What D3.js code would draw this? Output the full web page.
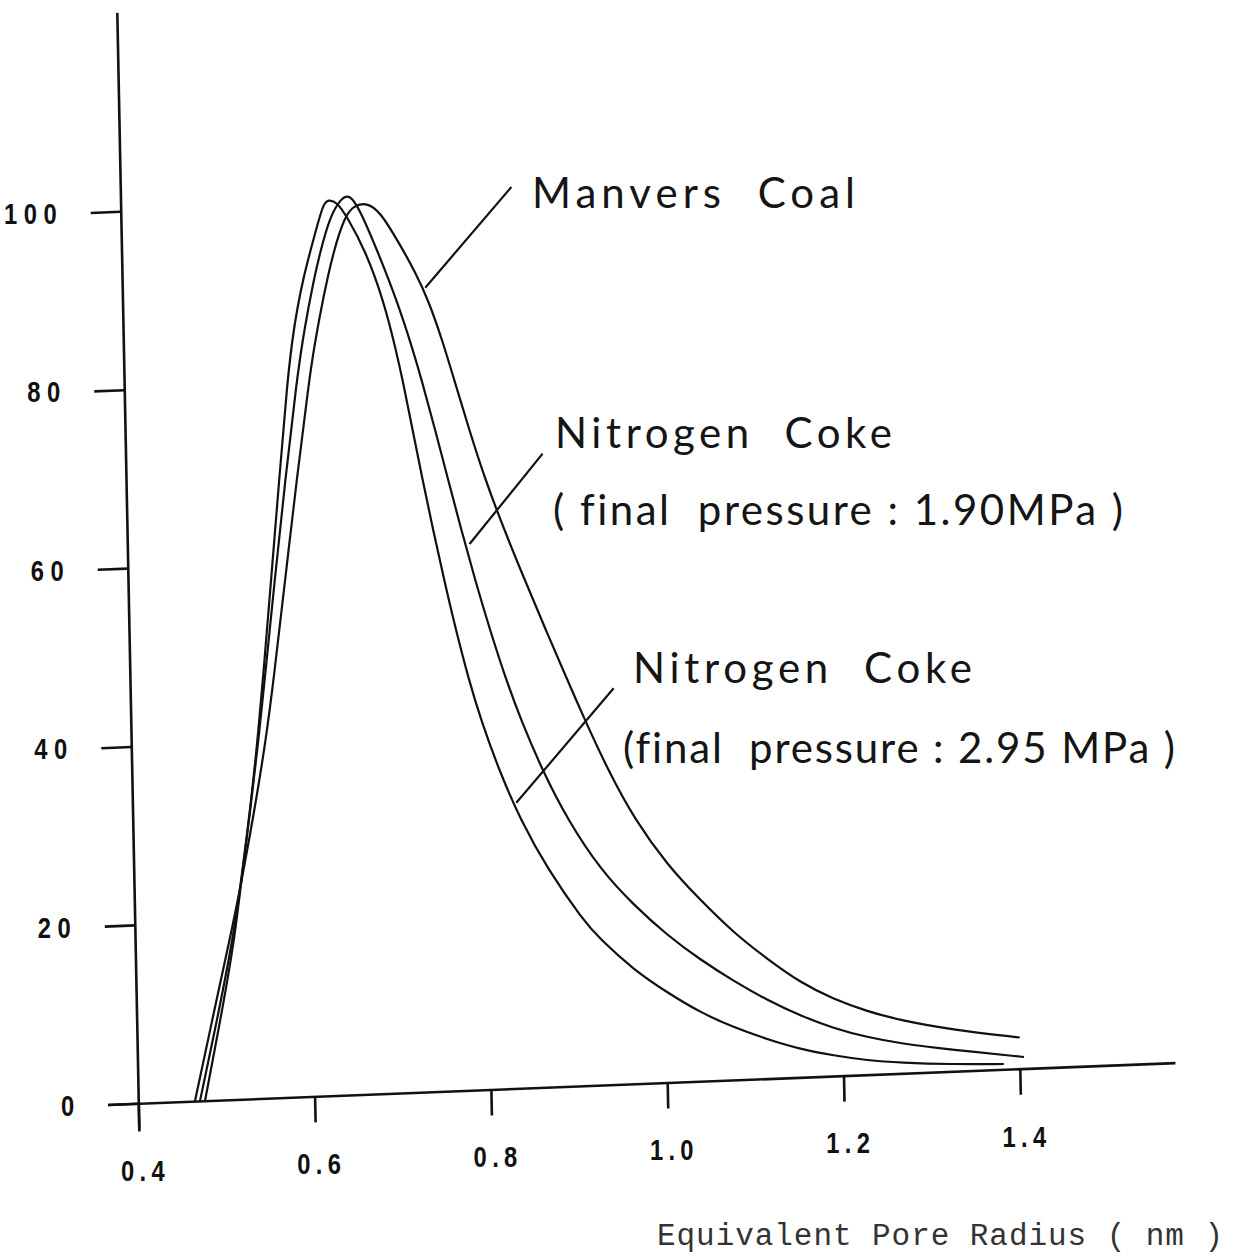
<!DOCTYPE html>
<html>
<head>
<meta charset="utf-8">
<script src="https://cdn.jsdelivr.net/npm/d3@7"></script>
<style>
  html, body { margin: 0; padding: 0; background: #fff; }
  svg { display: block; }
  .note { font-family: Lato, "Open Sans", sans-serif; font-weight: 400; font-size: 42px; fill: #151515; white-space: pre; font-variant-ligatures: none; font-feature-settings: "liga" 0; }
  .ticklbl { font-family: "Liberation Sans", Arial, sans-serif; font-weight: bold; font-size: 29px; fill: #111; }
  .xtitle { font-family: "Liberation Mono", "Courier New", monospace; font-size: 31px; fill: #333; white-space: pre; }
</style>
</head>
<body>
<svg id="chart" width="1242" height="1257"></svg>
<script>
// ---------------- data ----------------
const xTicks = [0.4, 0.6, 0.8, 1.0, 1.2, 1.4];
const xTickLabels = ["0.4", "0.6", "0.8", "1.0", "1.2", "1.4"];
const yTicks = [0, 20, 40, 60, 80, 100];
const yTickLabels = ["0", "20", "40", "60", "80", "100"];
const xTitle = "Equivalent Pore Radius ( nm )";

// Manvers Coal
const radiusCoal = [0.4643, 0.4892, 0.5071, 0.5201, 0.539, 0.5527, 0.5628, 0.5781, 0.5934, 0.6099, 0.6156, 0.6269, 0.6405, 0.6538, 0.6636, 0.6792, 0.694, 0.716, 0.7325, 0.7466, 0.7616, 0.7743, 0.7902, 0.8073, 0.8277, 0.8498, 0.8725, 0.8958, 0.9148, 0.9398, 0.9693, 1.0051, 1.0407, 1.0785, 1.1162, 1.1534, 1.1905, 1.2284, 1.266, 1.3225, 1.4006];
const valueCoal  = [0, 10.5, 17.88, 23.45, 32.7, 40.14, 46.82, 57.98, 69.1, 80.3, 83.62, 89.18, 94.7, 98.4, 99.6, 99.9, 98.85, 95.0, 91.9, 88.71, 84.17, 79.64, 73.97, 68.3, 62.61, 56.92, 51.23, 45.54, 40.98, 35.27, 29.56, 24.37, 20.4, 16.5, 13.4, 10.6, 8.6, 7.1, 5.95, 4.7, 3.5];

// Nitrogen Coke, final pressure 1.90 MPa
const radiusCoke190 = [0.4757, 0.4981, 0.5124, 0.5203, 0.534, 0.5443, 0.5527, 0.5663, 0.5805, 0.5957, 0.6053, 0.6172, 0.6258, 0.6371, 0.650, 0.6597, 0.6703, 0.6888, 0.711, 0.7281, 0.7374, 0.7516, 0.7652, 0.779, 0.7935, 0.8092, 0.8265, 0.8423, 0.8653, 0.8931, 0.9294, 0.9654, 1.0033, 1.0405, 1.0774, 1.1151, 1.1526, 1.1898, 1.2278, 1.2655, 1.322, 1.405];
const valueCoke190  = [0, 10.45, 17.87, 23.45, 32.7, 40.16, 46.86, 58.02, 69.18, 80.33, 85.9, 91.46, 94.79, 98.48, 100.5, 100.9, 99.3, 94.77, 88.85, 83.18, 79.78, 74.12, 68.46, 62.8, 57.14, 51.48, 45.8, 41.26, 35.56, 29.85, 24.1, 20.1, 16.5, 13.6, 11.1, 8.8, 6.9, 5.35, 4.2, 3.35, 2.45, 1.3];

// Nitrogen Coke, final pressure 2.95 MPa
const radiusCoke295 = [0.470, 0.4946, 0.5105, 0.5201, 0.5338, 0.5433, 0.5507, 0.5622, 0.5736, 0.5852, 0.5931, 0.6044, 0.622, 0.630, 0.6357, 0.6452, 0.6563, 0.6762, 0.6959, 0.7089, 0.7158, 0.726, 0.7362, 0.747, 0.7584, 0.7706, 0.7842, 0.797, 0.8163, 0.8396, 0.8697, 0.9082, 0.9268, 0.9643, 1.0019, 1.0393, 1.0763, 1.1144, 1.1519, 1.1892, 1.2275, 1.2652, 1.322, 1.382];
const valueCoke295  = [0, 10.46, 17.88, 23.45, 32.7, 40.17, 46.87, 58.04, 69.2, 80.4, 85.94, 91.5, 97.4, 100.0, 100.4, 100.1, 98.4, 94.6, 88.9, 83.25, 79.86, 74.22, 68.57, 62.93, 57.28, 51.62, 45.97, 41.43, 35.75, 30.06, 24.34, 18.58, 16.4, 12.8, 10.1, 7.7, 5.9, 4.4, 3.15, 2.3, 1.6, 1.2, 0.8, 0.6];

// leader lines (data units): from label end to curve
const leaderFrom = [[0.8433, 101.0], [0.8728, 71.0], [0.9481, 44.4]];
const leaderTo   = [[0.7435, 90.1],  [0.788, 61.2],  [0.8352, 32.0]];

// ---------------- layout ----------------
const svg = d3.select("#chart");
const ORIGIN = [138.3, 1103.3];        // screen position of (0.4, 0)
const TILT = -0.0392, SHEAR = 0.0197;   // scanned page is slightly skewed

const x = d3.scaleLinear().domain([0.4, 1.4]).range([0, 881.5]);
const y = d3.scaleLinear().domain([0, 100]).range([0, -892]);

function proj(lx, ly) {
  return [ORIGIN[0] + lx + SHEAR * ly, ORIGIN[1] + TILT * lx + ly];
}

const plot = svg.append("g")
  .attr("transform", `matrix(1,${TILT},${SHEAR},1,${ORIGIN[0]},${ORIGIN[1]})`);

// x axis
const xAxisScale = d3.scaleLinear().domain([0.365, 1.576]).range([x(0.365), x(1.576)]);
plot.append("g")
  .call(d3.axisBottom(xAxisScale).tickValues(xTicks).tickSize(26).tickSizeOuter(0).tickFormat(""))
  .call(g => g.selectAll("text").remove())
  .call(g => g.selectAll("path, line").attr("stroke", "#111").attr("stroke-width", 2.6));

// y axis
const yAxisScale = d3.scaleLinear().domain([-3.1, 122.3]).range([y(-3.1), y(122.3)]);
plot.append("g")
  .call(d3.axisLeft(yAxisScale).tickValues(yTicks).tickSize(30).tickSizeOuter(0).tickFormat(""))
  .call(g => g.selectAll("text").remove())
  .call(g => g.selectAll("path, line").attr("stroke", "#111").attr("stroke-width", 2.6));

// curves
const series = [
  { name: "Manvers Coal", xs: radiusCoal, ys: valueCoal },
  { name: "Nitrogen Coke 1.90 MPa", xs: radiusCoke190, ys: valueCoke190 },
  { name: "Nitrogen Coke 2.95 MPa", xs: radiusCoke295, ys: valueCoke295 }
];
const line = d3.line()
  .x(d => x(d[0])).y(d => y(d[1]))
  .curve(d3.curveBasis);

plot.selectAll("path.curve")
  .data(series)
  .join("path")
  .attr("class", "curve")
  .attr("d", s => line(d3.zip(s.xs, s.ys)))
  .attr("fill", "none")
  .attr("stroke", "#111")
  .attr("stroke-width", 2.2)
  .attr("stroke-linejoin", "round");

// leader lines
plot.selectAll("line.leader")
  .data(d3.zip(leaderFrom, leaderTo))
  .join("line")
  .attr("class", "leader")
  .attr("x1", d => x(d[0][0])).attr("y1", d => y(d[0][1]))
  .attr("x2", d => x(d[1][0])).attr("y2", d => y(d[1][1]))
  .attr("stroke", "#111").attr("stroke-width", 2.2);

// tick labels: upright, condensed bold digits placed along the skewed axes
const SQ = 0.82;   // horizontal condensing of the digits
const XLS = 6.5, YLS = 8;
svg.selectAll("text.xl")
  .data(d3.zip(xTicks, xTickLabels))
  .join("text")
  .attr("class", "ticklbl xl")
  .attr("text-anchor", "middle")
  .style("letter-spacing", XLS + "px")
  .attr("transform", d => {
    const p = proj(x(d[0]) + 3 + XLS * SQ / 2, 78);
    return `translate(${p[0]},${p[1]}) scale(${SQ},1)`;
  })
  .text(d => d[1]);

svg.selectAll("text.yl")
  .data(d3.zip(yTicks, yTickLabels))
  .join("text")
  .attr("class", "ticklbl yl")
  .attr("text-anchor", "end")
  .style("letter-spacing", YLS + "px")
  .attr("transform", d => {
    const p = proj(-65 + YLS * SQ + 1, y(d[0]));
    return `translate(${p[0]},${p[1] + 10.5}) scale(${SQ},1)`;
  })
  .text(d => d[1]);

// annotation texts
const notes = [
  { t: "Manvers  Coal", x: 532, y: 208, w: 323 },
  { t: "Nitrogen  Coke", x: 555, y: 448, w: 337 },
  { t: "( final  pressure : 1.90MPa )", x: 553, y: 525, w: 570 },
  { t: "Nitrogen  Coke", x: 633, y: 683, w: 339 },
  { t: "(final  pressure : 2.95 MPa )", x: 623, y: 763, w: 552 }
];
svg.selectAll("text.note")
  .data(notes)
  .join("text")
  .attr("class", "note")
  .attr("x", d => d.x).attr("y", d => d.y)
  .attr("textLength", d => d.w)
  .attr("lengthAdjust", "spacing")
  .text(d => d.t);

svg.append("text")
  .attr("class", "xtitle")
  .attr("x", 657).attr("y", 1245)
  .attr("textLength", 566)
  .attr("lengthAdjust", "spacing")
  .text(xTitle);
</script>
</body>
</html>
